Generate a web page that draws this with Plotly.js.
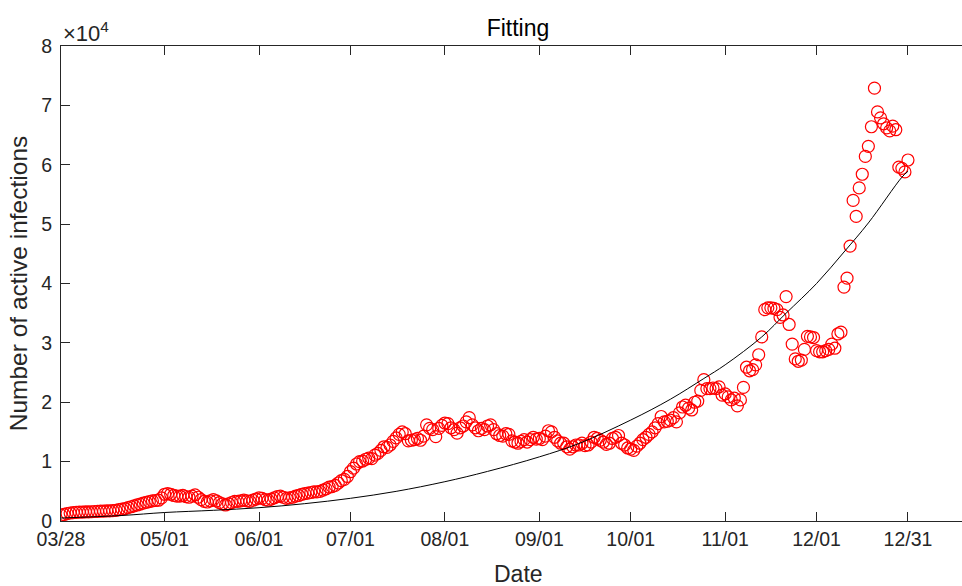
<!DOCTYPE html>
<html>
<head>
<meta charset="utf-8">
<script src="https://cdn.plot.ly/plotly-3.0.1.min.js"></script>
<style>
  html, body { margin: 0; padding: 0; background: #ffffff; overflow: hidden; }
  #frame { width: 962px; height: 586px; overflow: hidden; }
  #chart { width: 976px; height: 586px; }
</style>
</head>
<body>
<div id="frame"><div id="chart"></div></div>
<script>
// Daily active infections, one array per month (first day: 2020-03-28)
const startDate = '2020-03-28';
const marAprActive = [1000, 1100, 1250, 1350, 1400, 1450, 1500, 1500, 1550, 1550, 1560, 1600, 1610, 1650, 1660, 1700, 1710, 1750, 1800, 1900, 2000, 2100, 2250, 2400, 2550, 2700, 2850, 3000, 3150, 3250, 3400, 3450, 3500, 3900];
const mayActive = [4500, 4600, 4500, 4300, 4200, 4200, 4300, 4100, 4000, 4200, 4400, 4000, 3600, 3300, 3200, 3400, 3600, 3400, 3100, 2900, 2700, 2900, 3100, 3300, 3300, 3400, 3500, 3400, 3300, 3500, 3700];
const junActive = [3900, 3800, 3600, 3500, 3700, 3900, 4100, 4200, 4000, 3800, 3900, 4000, 4200, 4300, 4500, 4600, 4700, 4800, 4900, 4900, 5000, 5200, 5400, 5700, 5800, 6000, 6400, 6800, 7000, 7500];
const julActive = [8300, 8900, 9600, 10000, 10100, 10400, 10600, 10500, 11100, 11400, 11900, 12500, 12400, 12800, 13400, 14000, 14600, 15000, 14700, 13500, 13600, 13700, 13900, 13600, 14300, 16200, 15600, 15400, 14200, 15600, 16100];
const augActive = [16500, 16400, 15700, 15400, 14800, 15700, 16000, 16700, 17400, 16200, 15700, 15200, 15600, 15400, 16000, 16200, 15400, 14700, 14400, 14300, 14700, 14600, 13500, 13300, 13100, 13400, 13700, 13300, 13700, 14100, 13800];
const sepActive = [13900, 13700, 14300, 15200, 15000, 14100, 13500, 13100, 13100, 12500, 12100, 12500, 12800, 12800, 13100, 12700, 12800, 13300, 14100, 13900, 13600, 13300, 12900, 13100, 13900, 14100, 14400, 13100, 12800, 12300];
const octActive = [12100, 11900, 12600, 13100, 13700, 14100, 14600, 15000, 15700, 16400, 17600, 16700, 16800, 17000, 17400, 16700, 18200, 19200, 19500, 19000, 18700, 20000, 20200, 22000, 23800, 22300, 22300, 22400, 22300, 22600, 21200];
const novActive = [21400, 20900, 20400, 20700, 19400, 20400, 22500, 25900, 25300, 25500, 26300, 28000, 31000, 35600, 35900, 35900, 35800, 35600, 34300, 34700, 37800, 33100, 29800, 27300, 26900, 27100, 28900, 31100, 31000, 30900];
const decActive = [28700, 28500, 28500, 28700, 28900, 29800, 29100, 31500, 31800, 39400, 40900, 46300, 54000, 51300, 56100, 58400, 61400, 63100, 66400, 72900, 68900, 67900, 66900, 66200, 65700, 66500, 65900, 59600, 59400, 58800, 60800];

// Fitted curve, sampled along the date axis
const fitDates = ['2020-03-28', '2020-04-17', '2020-05-01', '2020-05-17', '2020-06-01', '2020-06-16', '2020-07-01', '2020-07-16', '2020-08-01', '2020-08-15', '2020-09-01', '2020-09-14', '2020-10-01', '2020-10-14', '2020-10-25', '2020-11-01', '2020-11-13', '2020-11-21', '2020-12-01', '2020-12-10', '2020-12-18', '2020-12-29', '2020-12-31'];
const fitValues = [500, 930, 1430, 1800, 2240, 2920, 3820, 4990, 6620, 8350, 10800, 13050, 17000, 20500, 24000, 26300, 31000, 35000, 40000, 45300, 50200, 57900, 58900];

// Axis ticks
const xTickDates = ['2020-03-28', '2020-05-01', '2020-06-01', '2020-07-01', '2020-08-01', '2020-09-01', '2020-10-01', '2020-11-01', '2020-12-01', '2020-12-31'];
const xTickLabels = ['03/28', '05/01', '06/01', '07/01', '08/01', '09/01', '10/01', '11/01', '12/01', '12/31'];
const yTickValues = [0, 10000, 20000, 30000, 40000, 50000, 60000, 70000, 80000];
const yTickLabels = ['0', '1', '2', '3', '4', '5', '6', '7', '8'];

const activeValues = [].concat(marAprActive, mayActive, junActive, julActive, augActive, sepActive, octActive, novActive, decActive);

function dayAfter(start, n) {
  const p = start.split('-').map(Number);
  const t = Date.UTC(p[0], p[1] - 1, p[2]) + n * 86400000;
  return new Date(t).toISOString().slice(0, 10);
}
const activeDates = activeValues.map((_, i) => dayAfter(startDate, i));

const ink = '#262626';
const font = 'Liberation Sans, Arial, Helvetica, sans-serif';

const traces = [
  {
    x: activeDates,
    y: activeValues,
    type: 'scatter',
    mode: 'markers',
    name: 'Active infections',
    marker: { symbol: 'circle-open', size: 12, color: '#ff0000', line: { width: 1.2, color: '#ff0000' } },
    hoverinfo: 'x+y'
  },
  {
    x: fitDates,
    y: fitValues,
    type: 'scatter',
    mode: 'lines',
    name: 'Fit',
    line: { color: '#000000', width: 1, shape: 'spline', smoothing: 1 },
    hoverinfo: 'x+y'
  }
];

const layout = {
  width: 976,
  height: 586,
  margin: { l: 61, r: 1, t: 46, b: 65 },
  paper_bgcolor: '#ffffff',
  plot_bgcolor: '#ffffff',
  showlegend: false,
  font: { family: font, color: ink, size: 19 },
  title: {
    text: 'Fitting',
    font: { family: font, size: 23, color: '#000000' },
    x: 0.5, xref: 'paper', xanchor: 'center',
    y: 1 - 28 / 586, yref: 'container', yanchor: 'middle'
  },
  xaxis: {
    type: 'date',
    range: ['2020-03-28', '2021-01-22'],
    tickmode: 'array',
    tickvals: xTickDates,
    ticktext: xTickLabels,
    ticks: 'inside',
    ticklen: 9,
    tickwidth: 1,
    tickcolor: ink,
    showline: true,
    linecolor: ink,
    linewidth: 1,
    mirror: 'ticks',
    showgrid: false,
    zeroline: false,
    ticklabelstandoff: 1,
    tickfont: { family: font, size: 19.5, color: ink },
    automargin: false
  },
  yaxis: {
    range: [0, 80000],
    tickmode: 'array',
    tickvals: yTickValues,
    ticktext: yTickLabels,
    ticks: 'inside',
    ticklen: 9,
    tickwidth: 1,
    tickcolor: ink,
    showline: true,
    linecolor: ink,
    linewidth: 1,
    mirror: 'ticks',
    showgrid: false,
    zeroline: false,
    ticklabelstandoff: 4,
    tickfont: { family: font, size: 19.5, color: ink },
    title: { text: 'Number of active infections', font: { family: font, size: 24.5, color: ink }, standoff: 6 },
    automargin: false
  },
  annotations: [
    {
      // axis exponent label above the y axis
      text: '×10<sup>4</sup>',
      xref: 'paper', yref: 'paper',
      x: 0, y: 1,
      xanchor: 'left', yanchor: 'bottom',
      xshift: 0, yshift: -2,
      showarrow: false,
      font: { family: font, size: 22, color: ink }
    },
    {
      // x axis title, placed below the tick labels
      text: 'Date',
      xref: 'paper', yref: 'paper',
      x: 0.5, y: 0,
      xanchor: 'center', yanchor: 'middle',
      yshift: -53,
      showarrow: false,
      font: { family: font, size: 23, color: ink }
    }
  ]
};

Plotly.newPlot('chart', traces, layout, { displayModeBar: false, staticPlot: true });
</script>
</body>
</html>
